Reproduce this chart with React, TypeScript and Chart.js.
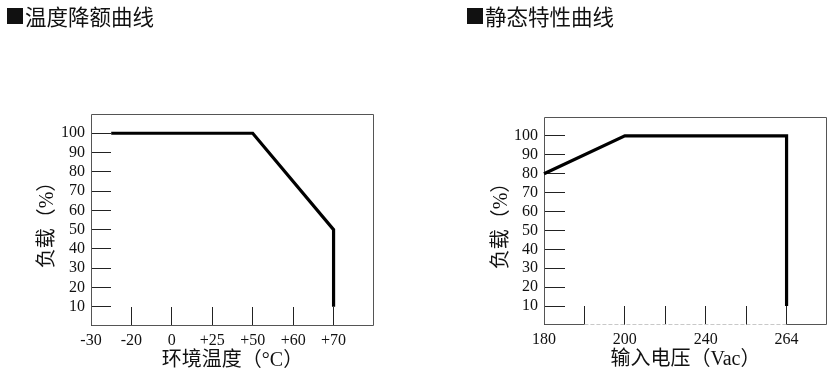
import React, { useEffect, useRef } from 'react';
import { Chart, registerables } from 'chart.js';

Chart.register(...registerables);

// ---- data ----
const leftHeading = '温度降额曲线';
const rightHeading = '静态特性曲线';
const yAxisTitle = '负载（%）';
const leftXAxisTitle = '环境温度（°C）';
const rightXAxisTitle = '输入电压（Vac）';
const loadTicks = [10, 20, 30, 40, 50, 60, 70, 80, 90, 100];
const tempLabels = ['-30', '-20', '0', '+25', '+50', '+60', '+70'];
const tempPos = [0.5, 4, 6, 6]; // position along the temperature category axis
const tempLoad = [100, 100, 50, 10];
const voltLabels = ['180', '', '200', '', '240', '', '264'];
const voltPos = [0, 2, 6, 6];
const voltLoad = [80, 100, 100, 10];

const SERIF = '"Liberation Serif", "Times New Roman", "Noto Sans CJK SC", serif';
const CJK = '"Noto Sans CJK SC", sans-serif';

const boxPlugin = {
  id: 'boxFrame',
  beforeDatasetsDraw(chart: any, _args: any, opts: any) {
    const { ctx, chartArea } = chart;
    const { left, right, top, bottom } = chartArea;
    const xs = chart.scales.x;
    ctx.save();
    ctx.lineWidth = 1;
    ctx.strokeStyle = '#555';
    const L = Math.round(left) + 0.5;
    const R = Math.round(right) - 0.5;
    const T = Math.round(top) + 0.5;
    const B = Math.round(bottom) - 0.5;
    ctx.beginPath();
    ctx.moveTo(L, B);
    ctx.lineTo(L, T);
    ctx.lineTo(R, T);
    ctx.lineTo(R, B);
    ctx.stroke();
    if (opts && opts.dashFrom != null) {
      const a = xs.getPixelForValue(opts.dashFrom);
      const b = xs.getPixelForValue(opts.dashTo);
      ctx.beginPath();
      ctx.moveTo(L, B);
      ctx.lineTo(a, B);
      ctx.moveTo(b, B);
      ctx.lineTo(R, B);
      ctx.stroke();
      ctx.setLineDash([4, 2]);
      ctx.strokeStyle = '#c8c8c8';
      ctx.beginPath();
      ctx.moveTo(a, B);
      ctx.lineTo(b, B);
      ctx.stroke();
    } else {
      ctx.beginPath();
      ctx.moveTo(L, B);
      ctx.lineTo(R, B);
      ctx.stroke();
    }
    ctx.restore();
  },
};

type Spec = {
  width: number;
  height: number;
  area: { left: number; right: number; top: number; bottom: number };
  labels: string[];
  pos: number[];
  load: number[];
  xTitle: string;
  yTitlePad: number;
  xTitlePad: number;
  yTickLen: number;
  xTickLen: number;
  dash?: { dashFrom: number; dashTo: number };
};

function DerateChart({ spec }: { spec: Spec }) {
  const ref = useRef<HTMLCanvasElement>(null);
  useEffect(() => {
    if (!ref.current) return;
    const { area, width, height } = spec;
    const chart = new Chart(ref.current, {
      type: 'line',
      data: {
        datasets: [
          {
            data: spec.pos.map((x, i) => ({ x, y: spec.load[i] })),
            borderColor: '#000',
            borderWidth: 3.2,
            pointRadius: 0,
            tension: 0,
            fill: false,
            clip: false as any,
            borderJoinStyle: 'miter',
            borderCapStyle: 'butt',
          },
        ],
      },
      options: {
        responsive: false,
        animation: false,
        devicePixelRatio: 1,
        layout: { padding: { left: 0, bottom: 0, top: area.top, right: width - area.right } },
        plugins: {
          legend: { display: false },
          tooltip: { enabled: false },
          boxFrame: spec.dash || {},
        } as any,
        scales: {
          x: {
            type: 'linear',
            min: 0,
            max: 7,
            afterBuildTicks: (s: any) => {
              s.ticks = spec.labels.map((_, i) => ({ value: i }));
            },
            afterFit: (s: any) => {
              s.height = height - area.bottom;
            },
            border: { display: false },
            grid: {
              display: true,
              drawOnChartArea: false,
              drawTicks: true,
              tickLength: -spec.xTickLen,
              color: '#222',
              lineWidth: 1,
            },
            ticks: {
              autoSkip: false,
              maxRotation: 0,
              padding: spec.xTickLen + 5,
              color: '#111',
              font: { family: SERIF, size: 16 },
              callback: (v: any) => spec.labels[Math.round(Number(v))] ?? '',
            },
            title: {
              display: true,
              text: spec.xTitle,
              color: '#111',
              font: { family: SERIF, size: 20 },
              padding: { top: 0, bottom: spec.xTitlePad },
            },
          },
          y: {
            type: 'linear',
            min: 0,
            max: 110,
            afterBuildTicks: (s: any) => {
              s.ticks = loadTicks.map((v) => ({ value: v }));
            },
            afterFit: (s: any) => {
              s.width = area.left;
            },
            border: { display: false },
            grid: {
              display: true,
              drawOnChartArea: false,
              drawTicks: true,
              tickLength: -spec.yTickLen,
              color: '#222',
              lineWidth: 1,
            },
            ticks: {
              padding: spec.yTickLen + 6,
              color: '#111',
              font: { family: SERIF, size: 16 },
            },
            title: {
              display: true,
              text: yAxisTitle,
              color: '#111',
              font: { family: SERIF, size: 20 },
              padding: { top: spec.yTitlePad, bottom: 0 },
            },
          },
        },
      } as any,
      plugins: [boxPlugin],
    });
    return () => chart.destroy();
  }, [spec]);
  return (
    <canvas
      ref={ref}
      width={spec.width}
      height={spec.height}
      style={{ display: 'block', width: spec.width, height: spec.height }}
    />
  );
}

const leftSpec: Spec = {
  width: 416,
  height: 376,
  area: { left: 91, right: 374, top: 114, bottom: 326 },
  labels: tempLabels,
  pos: tempPos,
  load: tempLoad,
  xTitle: leftXAxisTitle,
  yTitlePad: 36,
  xTitlePad: 3,
  yTickLen: 20,
  xTickLen: 19,
};

const rightSpec: Spec = {
  width: 417,
  height: 376,
  area: { left: 128, right: 411, top: 117, bottom: 325 },
  labels: voltLabels,
  pos: voltPos,
  load: voltLoad,
  xTitle: rightXAxisTitle,
  yTitlePad: 74,
  xTitlePad: 4,
  yTickLen: 21,
  xTickLen: 19,
  dash: { dashFrom: 1, dashTo: 6 },
};

const headingStyle: React.CSSProperties = {
  position: 'absolute',
  top: 4,
  fontFamily: CJK,
  fontSize: 21.5,
  lineHeight: '24px',
  color: '#111',
  whiteSpace: 'nowrap',
  display: 'flex',
  alignItems: 'center',
};

const squareStyle: React.CSSProperties = {
  fontSize: 20,
  marginRight: 0,
};

export default function App() {
  return (
    <div
      style={{
        position: 'fixed',
        left: 0,
        top: 0,
        width: 833,
        height: 376,
        background: '#fff',
        overflow: 'hidden',
      }}
    >
      <div style={{ position: 'absolute', left: 0, top: 0 }}>
        <DerateChart spec={leftSpec} />
      </div>
      <div style={{ position: 'absolute', left: 416, top: 0 }}>
        <DerateChart spec={rightSpec} />
      </div>
      <div style={{ ...headingStyle, left: 5 }}>
        <span style={squareStyle}>■</span>
        <span>{leftHeading}</span>
      </div>
      <div style={{ ...headingStyle, left: 465 }}>
        <span style={squareStyle}>■</span>
        <span>{rightHeading}</span>
      </div>
    </div>
  );
}
